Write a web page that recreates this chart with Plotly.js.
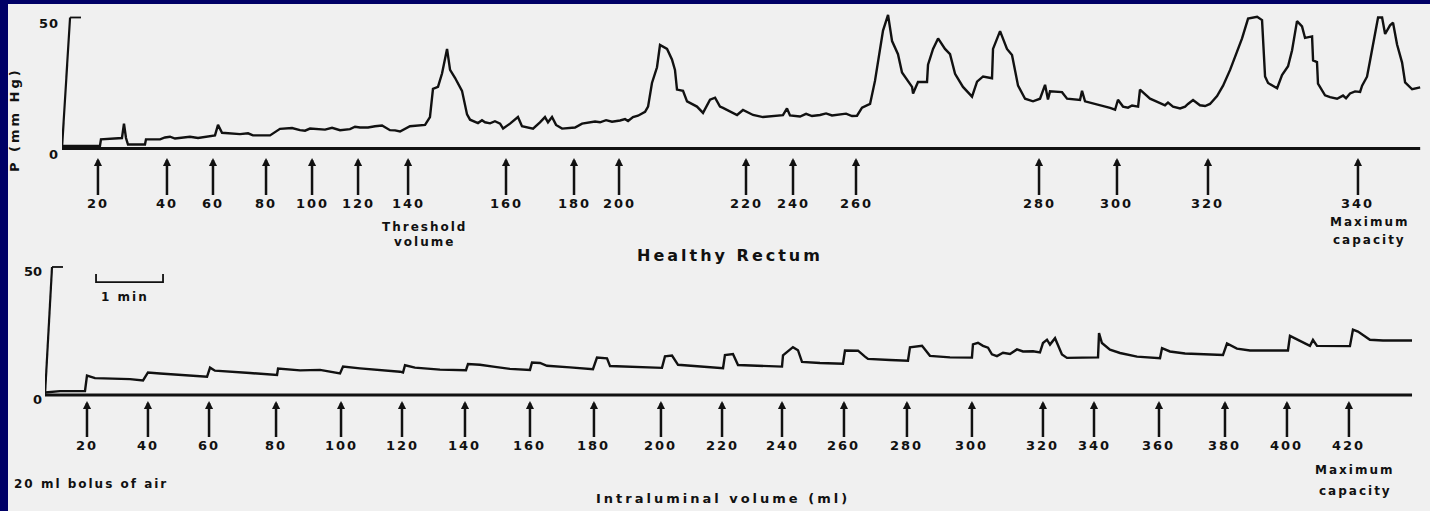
<!DOCTYPE html>
<html>
<head>
<meta charset="utf-8">
<script src="https://cdn.plot.ly/plotly-3.0.1.min.js"></script>
<style>
  html, body { margin: 0; padding: 0; background: #000066; overflow: hidden; }
  #chart { width: 1430px; height: 511px; }
  .annotation-text { letter-spacing: 2px; }
  .ytick text { letter-spacing: 1px; }
</style>
</head>
<body>
<div id="chart"></div>
<script>
// ---------- DATA (time in seconds from start of recording, pressure in mm Hg) ----------
// Upper recording: healthy rectum, intermittent distension
const topTime = [0,16.1,34.0,34.9,47.5,53.7,55.5,57.3,59.1,74.3,75.2,87.8,92.2,96.7,101.2,105.7,114.6,121.8,128.1,137.0,
  139.7,143.3,159.4,166.6,171.0,177.3,186.3,195.2,206.0,213.1,217.6,222.1,231.0,235.5,241.8,249.0,257.9,262.4,266.9,274.0,
  280.3,286.6,293.7,298.2,302.7,311.6,325.1,329.5,332.2,336.7,340.3,344.8,347.5,351.9,358.2,362.7,365.4,368.9,372.5,376.1,
  378.8,383.3,387.7,392.3,395.0,401.2,408.3,411.9,421.8,428.0,432.5,435.2,438.8,442.4,447.8,459.4,465.7,477.3,481.8,487.2,
  492.5,499.7,504.2,506.9,511.3,515.8,522.1,524.8,528.3,532.8,535.5,541.8,546.2,548.9,550.7,556.1,559.7,568.6,574.0,580.3,
  584.8,589.2,591.9,604.5,609.8,618.8,627.7,645.6,649.2,651.9,660.9,666.3,671.6,678.8,684.2,689.5,696.7,702.1,707.4,711.9,
  716.4,723.6,728.0,730.7,735.2,739.7,743.3,748.6,752.2,761.2,762.1,766.5,774.6,775.5,780.0,784.5,790.7,795.2,799.7,806.8,
  814.9,819.4,824.8,832.8,833.7,840.0,846.2,850.7,856.1,862.4,869.5,875.8,880.3,882.9,884.7,895.5,900.0,911.6,913.4,916.1,
  920.6,925.1,929.5,934.0,938.5,943.0,945.6,950.1,954.6,958.2,963.6,965.3,974.3,978.8,983.3,987.7,990.4,994.9,1001.2,1005.7,
  1008.3,1012.8,1019.0,1023.6,1028.0,1034.3,1039.7,1046.0,1052.2,1056.7,1062.1,1070.2,1074.6,1075.5,1077.3,1080.0,1088.1,1092.5,1097.9,1101.5,
  1105.9,1110.4,1113.1,1119.4,1120.3,1123.8,1124.7,1131.0,1135.5,1141.8,1147.1,1149.8,1153.4,1157.9,1162.4,1164.2,1168.6,1171.3,1175.8,1178.5,
  1182.1,1184.8,1189.2,1191.9,1195.5,1200.0,1202.7,1209.0,1216.2];
const topPressure = [1,1,1,3.5,4,4,9.5,4,1.5,1.5,3.5,3.5,4.2,4.5,3.8,4,4.5,4.0,4.5,5,
  9,6,5.5,5.8,5.0,5,5,7.5,7.8,7,6.8,7.6,7.5,7.2,7.9,7,7.4,8.3,8,8.0,
  8.5,8.8,7,6.9,6.5,8.5,9,12,22.8,23.5,28.6,38,30,27,22,13,11,10.5,9.7,10.8,
  10,9.6,10.4,9.5,7.6,9.5,12,8.5,7.6,10,12,10,12,9,7.6,8,9.5,10.3,10.0,10.8,
  10.2,10.7,11.2,10.5,12,12.5,14,16,25,31,39.5,38,34,30,22.5,22,18,16,13.6,18.6,
  19.4,16,15.5,12.8,14.7,12.8,12,12.7,15.3,12.6,12.2,13.2,12.4,12.8,13.4,12.6,13,13.3,12.4,12.5,
  15.6,17,25.8,33,45,51,41,36,29,23.5,21,25.4,25.4,32,38,42,38,36,28.5,23.5,
  19.8,25.5,27.5,26.8,38,44.8,38,35.7,24,19,18,19,24.3,18.7,21.8,21.5,19,18.5,22,18,
  17.5,16.9,16.6,16.2,15.5,14.8,18.6,16,15.6,16.4,16,22.5,19,18.2,17.2,16.5,17.5,16,15.3,16,
  17,18.5,16.5,16.2,17,20,24,30,37,42,49.6,50.3,49,40,27.5,25,23,28,31.4,37.5,
  48.6,46.6,42.2,42.8,33.6,33,24.8,20.3,19.6,19,20.2,19.2,21,21.8,21.6,24,27.4,33.5,44,50,
  50,43.7,47,48,39.7,32.8,25.2,22.6,23.3];
const topVolumes   = [20,40,60,80,100,120,140,160,180,200,220,240,260,280,300,320,340];
const topMarkTimes = [32.2,94.0,135.2,182.7,223.9,265.1,309.9,397.6,458.5,498.8,612.5,654.6,711.0,874.9,944.7,1026.2,1160.5];

// Lower recording: continuous 20 ml boluses of air
const botTime = [0,13.4,35.8,37.6,44.8,76.1,87.8,92.2,103.0,129.8,145.1,147.8,152.2,183.6,207.8,208.7,214.9,228.4,246.3,264.2,
  266.9,282.1,317.9,320.6,322.4,331.3,353.7,377.0,378.8,389.5,403.0,416.4,434.3,436.1,443.3,449.5,470.1,490.7,494.3,503.3,
  506.0,528.4,552.5,555.2,561.5,566.9,586.6,607.2,608.9,616.1,620.6,640.3,660.0,660.9,669.8,674.3,677.9,694.0,714.6,716.4,
  728.1,734.3,737.0,756.7,772.8,774.6,785.4,792.5,810.4,830.1,831.0,835.5,840.0,844.5,848.0,852.5,857.9,864.2,870.4,875.8,
  884.8,891.0,893.7,897.3,900.0,904.5,906.3,910.7,915.2,943.0,943.9,946.5,953.7,962.7,977.9,998.5,1000.3,1007.4,1020.9,1054.9,
  1058.5,1067.4,1079.1,1113.1,1114.9,1126.6,1132.8,1135.5,1139.1,1168.6,1171.3,1175.8,1186.5,1198.2,1224.2];
const botPressure = [1,1.5,1.5,7.6,6.6,6.2,5.7,8.8,8.4,7.6,7.1,10.7,9.5,8.6,7.8,10.3,10,9.6,9.8,8.4,
  11.1,10.4,9.1,8.8,11.6,10.7,9.9,9.7,12.1,11.8,11,10.2,9.8,12.7,12.5,11.4,10.8,10.1,14.6,14.3,
  11.3,10.9,10.6,15.1,15.4,11.8,11.1,10.5,15.6,16,11.7,11.4,11.1,15.5,18.7,17.5,12.9,12.5,12.2,17.4,
  17.3,15,14.1,13.7,13.4,18.6,19.2,15.3,14.7,14.6,19.8,20.4,19.2,18.5,15.9,15.2,16.5,16,17.8,17,
  17.1,16.6,20.3,21.6,19.7,22.2,20.4,15.8,14.5,14.7,24.2,20.3,17.7,16.4,15,14.4,18.3,17,16.2,15.6,
  20.1,18.1,17.4,17.4,23.1,20.5,19.2,21.5,19.2,19.1,25.5,24.8,21.6,21.3,21.3];
const botVolumes   = [20,40,60,80,100,120,140,160,180,200,220,240,260,280,300,320,340,360,380,400,420];
const botMarkTimes = [37.6,92.2,146.9,206.9,265.1,319.7,376.1,434.3,491.6,551.6,606.3,660.0,715.5,771.9,830.1,893.7,939.4,997.6,1056.7,1112.2,1167.7];

const axisTicks = [0, 50];
const axisTickText = ['0', '50'];

// ---------- STYLE / LAYOUT ----------
const INK = '#111111';
const FONT = 'DejaVu Sans, Verdana, sans-serif';
const labelFont = {family: FONT, size: 12, color: INK, weight: 'bold'};
const numFont = {family: FONT, size: 13, color: INK, weight: 'bold'};

const traces = [
  {x: topTime, y: topPressure, xaxis: 'x', yaxis: 'y', type: 'scatter', mode: 'lines',
   line: {color: INK, width: 2.4}, hoverinfo: 'skip', showlegend: false},
  {x: botTime, y: botPressure, xaxis: 'x2', yaxis: 'y2', type: 'scatter', mode: 'lines',
   line: {color: INK, width: 2.4}, hoverinfo: 'skip', showlegend: false}
];

const topEnd = topTime[topTime.length - 1];
const botEnd = botTime[botTime.length - 1];

const shapes = [
  // light panel
  {type: 'rect', xref: 'paper', yref: 'paper', x0: 8/1430, x1: 1, y0: 0, y1: 1 - 4/511,
   fillcolor: '#f0f0f0', line: {width: 0}, layer: 'below'},
  // zero baselines
  {type: 'line', xref: 'x', yref: 'y', x0: 0, x1: topEnd, y0: 0, y1: 0, line: {color: INK, width: 2.8}},
  {type: 'line', xref: 'x2', yref: 'y2', x0: 0, x1: botEnd, y0: 0, y1: 0, line: {color: INK, width: 2.8}},
  // calibration strokes 0 -> 50 mm Hg
  {type: 'line', xref: 'x', yref: 'y', x0: 0, x1: 7.2, y0: 0, y1: 50, line: {color: INK, width: 2.2}},
  {type: 'line', xref: 'x', yref: 'y', x0: 7.2, x1: 17, y0: 50, y1: 50, line: {color: INK, width: 1.8}},
  {type: 'line', xref: 'x2', yref: 'y2', x0: 0, x1: 6.3, y0: 0, y1: 50, line: {color: INK, width: 2.2}},
  {type: 'line', xref: 'x2', yref: 'y2', x0: 6.3, x1: 16.1, y0: 50, y1: 50, line: {color: INK, width: 1.8}},
  // 1 min scale bar
  {type: 'path', xref: 'x2', yref: 'y2', path: 'M45.7,47.3 L45.7,44.1 L105.7,44.1 L105.7,47.3',
   line: {color: INK, width: 1.8}}
];

const annotations = [];
topVolumes.forEach((v, i) => annotations.push({
  xref: 'x', yref: 'y', x: topMarkTimes[i], y: -3.6, text: String(v), showarrow: true,
  arrowhead: 2, arrowsize: 0.65, arrowwidth: 2.5, arrowcolor: INK, ax: 0, ay: 46, font: numFont
}));
botVolumes.forEach((v, i) => annotations.push({
  xref: 'x2', yref: 'y2', x: botMarkTimes[i], y: -2.3, text: String(v), showarrow: true,
  arrowhead: 2, arrowsize: 0.65, arrowwidth: 2.5, arrowcolor: INK, ax: 0, ay: 45, font: numFont
}));
const txt = (o) => Object.assign({showarrow: false, font: labelFont, xanchor: 'center', yanchor: 'middle'}, o);
annotations.push(
  txt({xref: 'x', yref: 'y', x: 325, y: -29.8, text: 'Threshold'}),
  txt({xref: 'x', yref: 'y', x: 325, y: -35.7, text: 'volume'}),
  txt({xref: 'x', yref: 'y', x: 1171, y: -27.9, text: 'Maximum'}),
  txt({xref: 'x', yref: 'y', x: 1171, y: -35.1, text: 'capacity'}),
  txt({xref: 'x2', yref: 'y2', x: 1173, y: -29.3, text: 'Maximum'}),
  txt({xref: 'x2', yref: 'y2', x: 1174, y: -37.5, text: 'capacity'}),
  txt({xref: 'x2', yref: 'y2', x: 71.2, y: 38.3, text: '1 min'}),
  txt({xref: 'paper', yref: 'paper', x: 730/1430, y: 1 - 255/511,
       text: '<span style="letter-spacing:3px">Healthy Rectum</span>', font: Object.assign({}, labelFont, {size: 16})}),
  txt({xref: 'paper', yref: 'paper', x: 723/1430, y: 1 - 498/511,
       text: '<span style="letter-spacing:3px">Intraluminal volume (ml)</span>', font: Object.assign({}, labelFont, {size: 13})}),
  txt({xref: 'paper', yref: 'paper', x: 12/1430, y: 1 - 484/511, xanchor: 'left', text: '20 ml bolus of air'}),
  txt({xref: 'paper', yref: 'paper', x: 14/1430, y: 1 - 120/511, textangle: -90,
       text: '<span style="letter-spacing:3px">P (mm Hg)</span>', font: Object.assign({}, labelFont, {size: 13})})
);

const layout = {
  width: 1430, height: 511, autosize: false,
  margin: {l: 0, r: 0, t: 0, b: 0, pad: 0},
  paper_bgcolor: '#000066', plot_bgcolor: 'rgba(0,0,0,0)',
  showlegend: false,
  xaxis:  {domain: [62/1430, 1], range: [0, 1225.0], visible: false, anchor: 'y', fixedrange: true},
  yaxis:  {domain: [1 - 250/511, 1 - 4/511], range: [-38.74, 55.15], anchor: 'x',
           showgrid: false, zeroline: false, showline: false, ticks: '',
           tickvals: axisTicks, ticktext: axisTickText, tickfont: numFont,
           ticklabelshift: 6, ticklabelstandoff: 2, fixedrange: true},
  xaxis2: {domain: [45/1430, 1], range: [0, 1240.3], visible: false, anchor: 'y2', fixedrange: true},
  yaxis2: {domain: [0, 1 - 262/511], range: [-45.31, 51.95], anchor: 'x2',
           showgrid: false, zeroline: false, showline: false, ticks: '',
           tickvals: axisTicks, ticktext: axisTickText, tickfont: numFont,
           ticklabelshift: 4, ticklabelstandoff: 2, fixedrange: true},
  shapes: shapes,
  annotations: annotations
};

Plotly.newPlot('chart', traces, layout, {staticPlot: true, displayModeBar: false});
</script>
</body>
</html>
